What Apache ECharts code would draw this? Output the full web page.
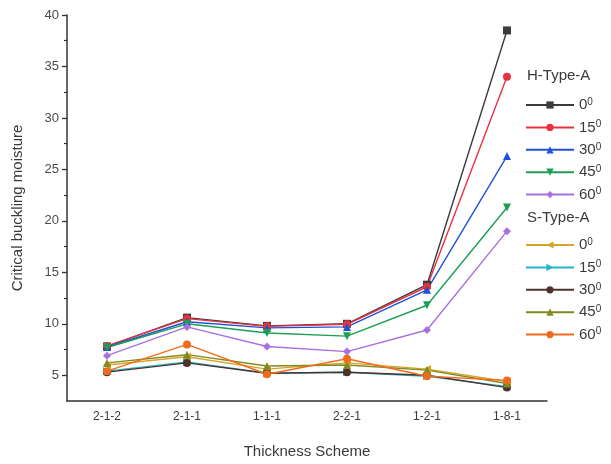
<!DOCTYPE html>
<html>
<head>
<meta charset="utf-8">
<script src="https://cdn.jsdelivr.net/npm/echarts@6/dist/echarts.min.js"></script>
<style>
  html, body { margin: 0; padding: 0; background: #fff; }
  #chart { width: 611px; height: 464px; }
</style>
</head>
<body>
<div id="chart"></div>
<script>
// Thickness schemes along the x axis
const schemes = ['2-1-2', '2-1-1', '1-1-1', '2-2-1', '1-2-1', '1-8-1'];

// Y axis labelled ticks and the unlabelled half-step ticks
const yMajorTicks = [5, 10, 15, 20, 25, 30, 35, 40];
const yMinorTicks = [7.5, 12.5, 17.5, 22.5, 27.5, 32.5, 37.5];

// Critical buckling moisture, H-Type-A, by ply angle
const h0  = [7.8, 10.6, 9.8, 10.0, 13.8, 38.5];
const h15 = [7.85, 10.5, 9.75, 9.95, 13.6, 34.0];
const h30 = [7.75, 10.2, 9.6, 9.7, 13.3, 26.3];
const h45 = [7.7, 10.0, 9.1, 8.8, 11.8, 21.3];
const h60 = [6.9, 9.7, 7.8, 7.3, 9.4, 19.0];

// Critical buckling moisture, S-Type-A, by ply angle
const s0  = [6.0, 6.8, 5.6, 6.2, 5.6, 4.4];
const s15 = [5.4, 6.3, 5.2, 5.3, 4.9, 3.9];
const s30 = [5.3, 6.2, 5.2, 5.3, 5.0, 3.8];
const s45 = [6.2, 7.0, 5.9, 6.0, 5.5, 4.2];
const s60 = [5.4, 8.0, 5.1, 6.6, 4.9, 4.5];

const textColor = '#3a3a3a';
const tickTextColor = '#4a4a4a';
const fontFamily = '"Liberation Sans", Arial, sans-serif';

function mkSeries(name, data, color, symbol, rotate) {
  return {
    name: name,
    type: 'line',
    data: data,
    symbol: symbol,
    symbolSize: 8,
    symbolRotate: rotate || 0,
    lineStyle: { color: color, width: 1.4 },
    itemStyle: { color: color },
    emphasis: { disabled: true },
    animation: false
  };
}

const series = [
  mkSeries('H-0', h0, '#3b3b3b', 'rect'),
  mkSeries('H-15', h15, '#e8333f', 'circle'),
  mkSeries('H-30', h30, '#2051d8', 'triangle'),
  mkSeries('H-45', h45, '#1c9e55', 'triangle', 180),
  mkSeries('H-60', h60, '#a870e0', 'diamond'),
  mkSeries('S-0', s0, '#d6a42c', 'triangle', 90),
  mkSeries('S-15', s15, '#23b6c6', 'triangle', -90),
  mkSeries('S-30', s30, '#4e302c', 'circle'),
  mkSeries('S-45', s45, '#808a1f', 'triangle'),
  mkSeries('S-60', s60, '#f06c1c', 'circle')
];

function angleLabel(name) {
  const a = name.split('-')[1];
  return '{n|' + a + '}{s|0}';
}

const legendText = {
  color: textColor,
  fontFamily: fontFamily,
  rich: {
    n: { fontSize: 15, color: textColor, fontFamily: fontFamily, lineHeight: 16 },
    s: { fontSize: 10, color: textColor, fontFamily: fontFamily, verticalAlign: 'top', lineHeight: 16 }
  }
};

function mkLegend(names, top) {
  return {
    data: names,
    orient: 'vertical',
    left: 520,
    top: top,
    itemWidth: 48,
    itemHeight: 9,
    itemGap: 6.9,
    selectedMode: false,
    formatter: angleLabel,
    textStyle: legendText
  };
}

const chart = echarts.init(document.getElementById('chart'), null, { renderer: 'canvas' });

chart.setOption({
  animation: false,
  backgroundColor: '#ffffff',
  grid: { left: 67, right: 64, top: 15, bottom: 61, containLabel: false },
  xAxis: [
    {
      type: 'category',
      data: schemes,
      position: 'bottom',
      boundaryGap: true,
      name: 'Thickness Scheme',
      nameLocation: 'middle',
      nameGap: 43,
      nameTextStyle: { fontSize: 15, color: textColor, fontFamily: fontFamily },
      axisLine: { lineStyle: { color: '#333', width: 1.5 } },
      axisTick: { alignWithLabel: true, length: 5, lineStyle: { color: '#333', width: 1.3 } },
      axisLabel: { fontSize: 12, color: textColor, fontFamily: fontFamily, margin: 10 },
      splitLine: { show: false }
    },
    {
      type: 'category',
      data: schemes,
      position: 'bottom',
      boundaryGap: true,
      axisLine: { show: false },
      axisTick: { length: 3, lineStyle: { color: '#333', width: 1.2 } },
      axisLabel: { show: false },
      splitLine: { show: false }
    }
  ],
  yAxis: [
    {
      type: 'value',
      position: 'left',
      min: 2.5,
      max: 40,
      name: 'Critical buckling moisture',
      nameLocation: 'middle',
      nameGap: 42,
      nameTextStyle: { fontSize: 15, color: textColor, fontFamily: fontFamily },
      axisLine: { show: true, lineStyle: { color: '#333', width: 1.5 } },
      axisTick: { show: true, customValues: yMajorTicks, length: 5, lineStyle: { color: '#333', width: 1.3 } },
      axisLabel: { customValues: yMajorTicks, fontSize: 13, color: tickTextColor, fontFamily: fontFamily, margin: 8 },
      splitLine: { show: false }
    },
    {
      type: 'value',
      position: 'left',
      min: 2.5,
      max: 40,
      axisLine: { show: false },
      axisTick: { show: true, customValues: yMinorTicks, length: 3, lineStyle: { color: '#333', width: 1.2 } },
      axisLabel: { show: false },
      splitLine: { show: false }
    }
  ],
  legend: [
    mkLegend(['H-0', 'H-15', 'H-30', 'H-45', 'H-60'], 92),
    mkLegend(['S-0', 'S-15', 'S-30', 'S-45', 'S-60'], 232)
  ],
  graphic: [
    { type: 'text', left: 527, top: 68, style: { text: 'H-Type-A', fontSize: 15, fill: textColor, fontFamily: fontFamily } },
    { type: 'text', left: 527, top: 210, style: { text: 'S-Type-A', fontSize: 15, fill: textColor, fontFamily: fontFamily } }
  ],
  series: series
});
</script>
</body>
</html>
